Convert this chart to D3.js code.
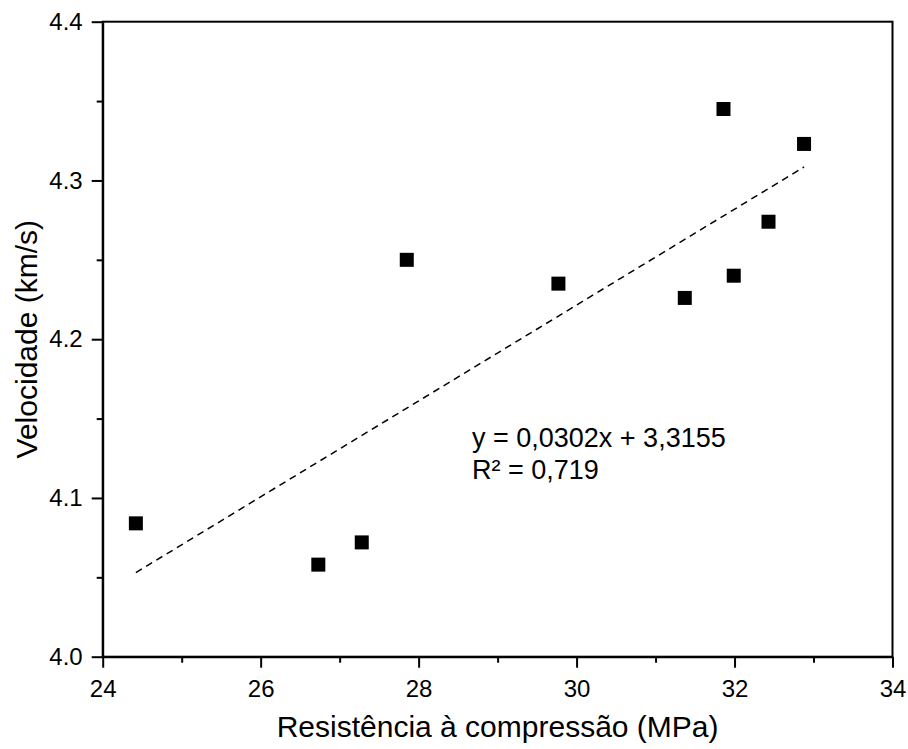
<!DOCTYPE html>
<html lang="pt">
<head>
<meta charset="utf-8">
<title>Velocidade x Resistência</title>
<script src="https://cdn.jsdelivr.net/npm/d3@7"></script>
<style>
  body { margin: 0; background: #fff; }
  text { font-family: "Liberation Sans", Arial, sans-serif; fill: #000; }
  .axis path, .axis line { stroke: #000; }
</style>
</head>
<body>
<script>
// data
var resistencia = [24.42, 26.73, 27.28, 27.85, 29.77, 31.37, 31.86, 31.99, 32.43, 32.88];
var velocidade  = [4.084, 4.058, 4.072, 4.250, 4.235, 4.226, 4.345, 4.240, 4.274, 4.323];
var xTicks = [24, 26, 28, 30, 32, 34];
var xMinor = [25, 27, 29, 31, 33];
var yTicks = [4.0, 4.1, 4.2, 4.3, 4.4];
var yMinor = [4.05, 4.15, 4.25, 4.35];
var slope = 0.0302, intercept = 3.3155, r2 = "0,719";

var w = 908, h = 749;
// plot box (window.top is reserved, so different names)
var pL = 102.7, pR = 892.5, pT = 21.7, pB = 656.7;

var svg = d3.select("body").append("svg")
    .attr("width", w)
    .attr("height", h);

var x = d3.scaleLinear().domain([24, 34]).range([pL, pR]);
var y = d3.scaleLinear().domain([4.0, 4.4]).range([pB, pT]);

// frame
svg.append("rect")
    .attr("x", pL).attr("y", pT)
    .attr("width", pR - pL).attr("height", pB - pT)
    .attr("fill", "none").attr("stroke", "#000").attr("stroke-width", 2);

// x axis, major + minor
svg.append("g").attr("class", "axis")
    .attr("transform", "translate(0," + pB + ")")
    .call(d3.axisBottom(x).tickValues(xTicks).tickSize(11).tickSizeOuter(0).tickPadding(12)
        .tickFormat(d3.format("d")))
    .call(function (g) {
        g.select(".domain").attr("stroke-width", 2);
        g.selectAll(".tick line").attr("stroke-width", 2);
        g.selectAll("text").attr("font-size", "24px");
    });
svg.append("g").attr("class", "axis")
    .attr("transform", "translate(0," + pB + ")")
    .call(d3.axisBottom(x).tickValues(xMinor).tickSize(6).tickSizeOuter(0).tickFormat(""))
    .call(function (g) {
        g.select(".domain").remove();
        g.selectAll(".tick line").attr("stroke-width", 2);
    });

// y axis, major + minor
svg.append("g").attr("class", "axis")
    .attr("transform", "translate(" + pL + ",0)")
    .call(d3.axisLeft(y).tickValues(yTicks).tickSize(11).tickSizeOuter(0).tickPadding(9)
        .tickFormat(d3.format(".1f")))
    .call(function (g) {
        g.select(".domain").attr("stroke-width", 2);
        g.selectAll(".tick line").attr("stroke-width", 2);
        g.selectAll("text").attr("font-size", "24px");
    });
svg.append("g").attr("class", "axis")
    .attr("transform", "translate(" + pL + ",0)")
    .call(d3.axisLeft(y).tickValues(yMinor).tickSize(6).tickSizeOuter(0).tickFormat(""))
    .call(function (g) {
        g.select(".domain").remove();
        g.selectAll(".tick line").attr("stroke-width", 2);
    });

// trend line
var x0 = d3.min(resistencia), x1 = d3.max(resistencia);
svg.append("line")
    .attr("x1", x(x0)).attr("y1", y(slope * x0 + intercept))
    .attr("x2", x(x1)).attr("y2", y(slope * x1 + intercept))
    .attr("stroke", "#000")
    .attr("stroke-width", 1.5)
    .attr("stroke-dasharray", "7,5");

// points
var s = 14;
svg.selectAll("rect.pt")
    .data(d3.zip(resistencia, velocidade))
    .enter()
    .append("rect")
    .attr("class", "pt")
    .attr("x", function (d) { return x(d[0]) - s / 2; })
    .attr("y", function (d) { return y(d[1]) - s / 2; })
    .attr("width", s).attr("height", s)
    .attr("fill", "#000");

// equation
var eq = svg.append("text")
    .attr("x", 472).attr("y", 447)
    .attr("font-size", "27px");
eq.append("tspan").text("y = 0,0302x + 3,3155");
eq.append("tspan").attr("x", 472).attr("dy", 32).text("R² = " + r2);

// axis titles
svg.append("text")
    .attr("x", (pL + pR) / 2).attr("y", 737)
    .attr("text-anchor", "middle")
    .attr("font-size", "30px")
    .text("Resistência à compressão (MPa)");

svg.append("text")
    .attr("transform", "translate(37," + ((pT + pB) / 2) + ") rotate(-90)")
    .attr("text-anchor", "middle")
    .attr("font-size", "30px")
    .text("Velocidade (km/s)");
</script>
</body>
</html>
